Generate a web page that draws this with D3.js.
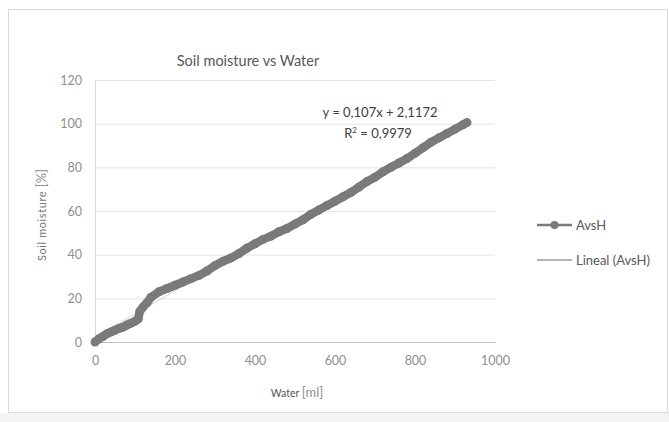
<!DOCTYPE html>
<html>
<head>
<meta charset="utf-8">
<script src="https://cdn.jsdelivr.net/npm/d3@7"></script>
<style>
  body { margin: 0; background: #fff; }
  text { font-family: Lato, "Open Sans", sans-serif; }
</style>
</head>
<body>
<div id="chart"></div>
<script>
const width = 669;
const height = 422;

// series AvsH
const water = [0, 10, 20, 30, 40, 50, 60, 70, 80, 90, 100, 108, 112, 120, 130, 140, 160, 180, 200, 220,
    240, 260, 280, 300, 320, 340, 360, 380, 400, 420, 440, 460, 480, 500, 520, 540, 560, 580, 600, 620,
    640, 660, 680, 700, 720, 740, 760, 780, 800, 820, 840, 860, 880, 900, 920, 930];
const moisture = [0, 1.5, 2.5, 3.8, 4.6, 5.4, 6.2, 6.8, 7.8, 8.6, 9.5, 10.5, 14, 16, 18, 20.5, 23, 24.5, 26, 27.5,
    29, 30.5, 32.5, 35, 37, 38.5, 40.5, 43, 45, 47, 48.5, 50.5, 52, 54, 56, 58.5, 60.5, 62.5, 64.5, 66.5,
    68.5, 71, 73.5, 75.5, 78, 80, 82, 84, 86.5, 89, 91.5, 93.5, 95.5, 97.5, 99.5, 100.5];

const xTicks = [0, 200, 400, 600, 800, 1000];
const yTicks = [0, 20, 40, 60, 80, 100, 120];

// trend line coefficients as printed on the chart
const slope = 0.107;
const intercept = 2.1172;
const trendRange = [0, 930];

const margin = { left: 95, right: 174, top: 80, bottom: 80 };

function main() {
    const svg = d3.select("#chart")
        .append("svg")
        .attr("width", width)
        .attr("height", height);

    // chart frame
    svg.append("rect")
        .attr("x", 0).attr("y", 413)
        .attr("width", width).attr("height", 9)
        .attr("fill", "#f4f4f4");
    svg.append("rect")
        .attr("x", 8.5).attr("y", 9.5)
        .attr("width", 659).attr("height", 403)
        .attr("fill", "#fff")
        .attr("stroke", "#d9d9d9");

    const x = d3.scaleLinear().domain([0, 1000]).range([margin.left, width - margin.right]);
    const y = d3.scaleLinear().domain([0, 120]).range([height - margin.bottom, margin.top]);

    // gridlines
    const grid = svg.append("g")
        .attr("transform", `translate(${x(0)},0)`)
        .call(d3.axisLeft(y).tickValues(yTicks).tickSize(-(x(1000) - x(0))).tickFormat(""));
    grid.select(".domain").remove();
    grid.selectAll("line").attr("stroke", "#e4e4e4");

    // y axis
    const yAxis = svg.append("g")
        .attr("transform", `translate(${x(0)},0)`)
        .call(d3.axisLeft(y).tickValues(yTicks).tickSize(0).tickPadding(13));
    yAxis.select(".domain").attr("stroke", "#d9d9d9");
    yAxis.selectAll("text")
        .attr("fill", "#8f8f8f")
        .style("font-size", "12.5px");

    // x axis
    const xAxis = svg.append("g")
        .attr("transform", `translate(0,${y(0)})`)
        .call(d3.axisBottom(x).tickValues(xTicks).tickSize(0).tickPadding(14).tickFormat(d3.format("d")));
    xAxis.select(".domain").attr("stroke", "#bfbfbf");
    xAxis.selectAll("text")
        .attr("fill", "#8f8f8f")
        .style("font-size", "12.5px");

    // title
    svg.append("text")
        .attr("x", 248).attr("y", 66)
        .attr("text-anchor", "middle")
        .attr("fill", "#595959")
        .style("font-size", "14.5px")
        .text("Soil moisture vs Water");

    // axis titles
    const xt = svg.append("text")
        .attr("x", 297).attr("y", 397)
        .attr("text-anchor", "middle");
    xt.append("tspan").attr("fill", "#555").style("font-size", "10.5px").text("Water ");
    xt.append("tspan").attr("fill", "#8f8f8f").style("font-size", "13px").text("[ml]");

    const yt = svg.append("text")
        .attr("transform", "translate(46,215) rotate(-90)")
        .attr("text-anchor", "middle");
    yt.append("tspan").attr("fill", "#777").style("font-size", "11px")
        .style("letter-spacing", "0.6px").text("Soil moisture   ");
    yt.append("tspan").attr("fill", "#8f8f8f").style("font-size", "13px").text("[%]");

    const points = water.map((w, i) => ({ w: w, v: moisture[i] }));

    // linear trend line (sits under the thick series)
    svg.append("line")
        .attr("x1", x(trendRange[0])).attr("y1", y(slope * trendRange[0] + intercept))
        .attr("x2", x(trendRange[1])).attr("y2", y(slope * trendRange[1] + intercept))
        .attr("stroke", "#d0d0d0")
        .attr("stroke-width", 1);

    // series line + markers
    const line = d3.line().x((d) => x(d.w)).y((d) => y(d.v));
    svg.append("path")
        .datum(points)
        .attr("fill", "none")
        .attr("stroke", "#7a7a7a")
        .attr("stroke-width", 8.5)
        .attr("stroke-linejoin", "round")
        .attr("d", line);
    svg.append("g")
        .selectAll("circle")
        .data(points)
        .enter().append("circle")
        .attr("cx", (d) => x(d.w))
        .attr("cy", (d) => y(d.v))
        .attr("r", 4.5)
        .attr("fill", "#7a7a7a");

    // equation label
    svg.append("text")
        .attr("x", 380).attr("y", 117)
        .attr("text-anchor", "middle")
        .attr("fill", "#404040")
        .style("font-size", "13px")
        .text("y = 0,107x + 2,1172");
    const r2 = svg.append("text")
        .attr("x", 378).attr("y", 138)
        .attr("text-anchor", "middle")
        .attr("fill", "#404040")
        .style("font-size", "13px");
    r2.append("tspan").text("R");
    r2.append("tspan").attr("dy", -5).style("font-size", "8px").text("2");
    r2.append("tspan").attr("dy", 5).text(" = 0,9979");

    // legend
    const legend = svg.append("g");
    legend.append("line")
        .attr("x1", 537).attr("x2", 572).attr("y1", 225).attr("y2", 225)
        .attr("stroke", "#7a7a7a").attr("stroke-width", 2.5);
    legend.append("circle")
        .attr("cx", 554.5).attr("cy", 225).attr("r", 4)
        .attr("fill", "#7a7a7a");
    legend.append("text")
        .attr("x", 576).attr("y", 229.5)
        .attr("fill", "#595959")
        .style("font-size", "13px")
        .text("AvsH");
    legend.append("line")
        .attr("x1", 537).attr("x2", 572).attr("y1", 260).attr("y2", 260)
        .attr("stroke", "#6a6a6a").attr("stroke-width", 1.2);
    legend.append("text")
        .attr("x", 576).attr("y", 264.5)
        .attr("fill", "#595959")
        .style("font-size", "13px")
        .text("Lineal (AvsH)");
}
main();
</script>
</body>
</html>
